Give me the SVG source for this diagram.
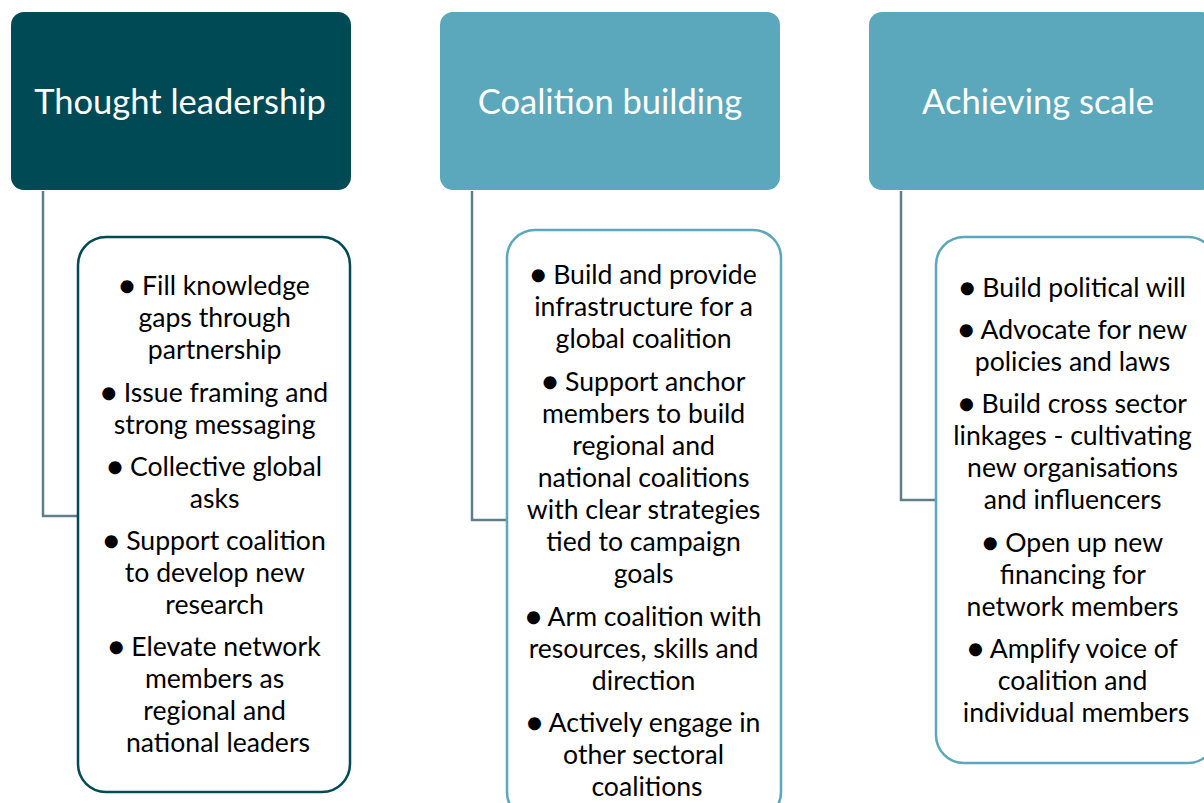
<svg xmlns="http://www.w3.org/2000/svg" width="1204" height="803" viewBox="0 0 1204 803">
<style>
.hd{font-family:Lato,"Open Sans","Liberation Sans",sans-serif;font-size:34.5px;fill:#ffffff;text-anchor:middle}
.bd{font-family:Lato,"Open Sans","Liberation Sans",sans-serif;font-size:26.6px;fill:#000000;text-anchor:middle}
.con{fill:none;stroke:#5e7f88;stroke-width:2.5}
</style>
<rect width="1204" height="803" fill="#ffffff"/>
<g id="connectors">
<polyline class="con" points="43,191 43,516 78,516"/>
<polyline class="con" points="472,191 472,520 507,520"/>
<polyline class="con" points="901,191 901,500 936,500"/>
</g>
<g id="h1">
<rect x="11" y="12" width="340" height="178" rx="13" fill="#004a55"/>
<text class="hd" x="180" y="114">Thought leadership</text>
</g>
<g id="h2">
<rect x="440" y="12" width="340" height="178" rx="13" fill="#5ba8bc"/>
<text class="hd" x="610" y="114">Coalition building</text>
</g>
<g id="h3">
<rect x="869" y="12" width="345" height="178" rx="13" fill="#5ba8bc"/>
<text class="hd" x="1038" y="114">Achieving scale</text>
</g>
<g id="b1">
<rect x="78" y="237" width="272" height="555" rx="28" fill="#ffffff" stroke="#004a55" stroke-width="2.5"/>
<text class="bd" x="218">
<tspan x="218" y="295">● Fill knowledge</tspan>
<tspan x="218" y="327">gaps through</tspan>
<tspan x="218" y="359">partnership</tspan>
<tspan x="218" y="402">● Issue framing and</tspan>
<tspan x="218" y="434">strong messaging</tspan>
<tspan x="218" y="476">● Collective global</tspan>
<tspan x="218" y="508">asks</tspan>
<tspan x="218" y="550">● Support coalition</tspan>
<tspan x="218" y="582">to develop new</tspan>
<tspan x="218" y="614">research</tspan>
<tspan x="218" y="656">● Elevate network</tspan>
<tspan x="218" y="688">members as</tspan>
<tspan x="218" y="720">regional and</tspan>
<tspan x="218" y="752">national leaders</tspan>
</text>
</g>
<g id="b2">
<rect x="507" y="230" width="274" height="590" rx="28" fill="#ffffff" stroke="#5ba8bc" stroke-width="2.5"/>
<text class="bd" x="647">
<tspan x="647" y="284">● Build and provide</tspan>
<tspan x="647" y="316">infrastructure for a</tspan>
<tspan x="647" y="348">global coalition</tspan>
<tspan x="647" y="391">● Support anchor</tspan>
<tspan x="647" y="423">members to build</tspan>
<tspan x="647" y="455">regional and</tspan>
<tspan x="647" y="487">national coalitions</tspan>
<tspan x="647" y="519">with clear strategies</tspan>
<tspan x="647" y="551">tied to campaign</tspan>
<tspan x="647" y="583">goals</tspan>
<tspan x="647" y="626">● Arm coalition with</tspan>
<tspan x="647" y="658">resources, skills and</tspan>
<tspan x="647" y="690">direction</tspan>
<tspan x="647" y="732">● Actively engage in</tspan>
<tspan x="647" y="764">other sectoral</tspan>
<tspan x="647" y="796">coalitions</tspan>
</text>
</g>
<g id="b3">
<rect x="936" y="237" width="280" height="526" rx="28" fill="#ffffff" stroke="#5ba8bc" stroke-width="2.5"/>
<text class="bd" x="1076">
<tspan x="1076" y="297">● Build political will</tspan>
<tspan x="1076" y="339">● Advocate for new</tspan>
<tspan x="1076" y="371">policies and laws</tspan>
<tspan x="1076" y="413">● Build cross sector</tspan>
<tspan x="1076" y="445">linkages - cultivating</tspan>
<tspan x="1076" y="477">new organisations</tspan>
<tspan x="1076" y="509">and influencers</tspan>
<tspan x="1076" y="552">● Open up new</tspan>
<tspan x="1076" y="584">financing for</tspan>
<tspan x="1076" y="616">network members</tspan>
<tspan x="1076" y="658">● Amplify voice of</tspan>
<tspan x="1076" y="690">coalition and</tspan>
<tspan x="1076" y="722">individual members</tspan>
</text>
</g>
</svg>
